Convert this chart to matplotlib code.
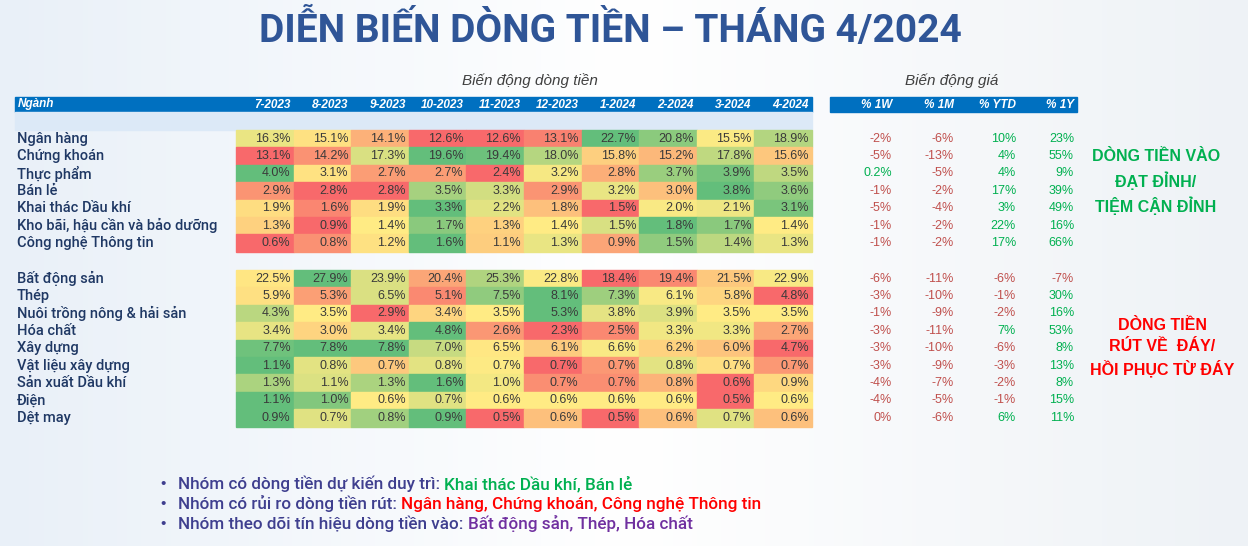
import numpy as np
import matplotlib.pyplot as plt
from matplotlib.colors import to_rgb, LinearSegmentedColormap
from matplotlib.patches import Rectangle

# Dữ liệu
months = ['7-2023', '8-2023', '9-2023', '10-2023', '11-2023', '12-2023',
          '1-2024', '2-2024', '3-2024', '4-2024']
price_cols = ['% 1W', '% 1M', '% YTD', '% 1Y']

sectors_in = ['Ngân hàng', 'Chứng khoán', 'Thực phẩm', 'Bán lẻ', 'Khai thác Dầu khí',
              'Kho bãi, hậu cần và bảo dưỡng', 'Công nghệ Thông tin']
flow_in = [
    [16.3, 15.1, 14.1, 12.6, 12.6, 13.1, 22.7, 20.8, 15.5, 18.9],
    [13.1, 14.2, 17.3, 19.6, 19.4, 18.0, 15.8, 15.2, 17.8, 15.6],
    [4.0, 3.1, 2.7, 2.7, 2.4, 3.2, 2.8, 3.7, 3.9, 3.5],
    [2.9, 2.8, 2.8, 3.5, 3.3, 2.9, 3.2, 3.0, 3.8, 3.6],
    [1.9, 1.6, 1.9, 3.3, 2.2, 1.8, 1.5, 2.0, 2.1, 3.1],
    [1.3, 0.9, 1.4, 1.7, 1.3, 1.4, 1.5, 1.8, 1.7, 1.4],
    [0.6, 0.8, 1.2, 1.6, 1.1, 1.3, 0.9, 1.5, 1.4, 1.3],
]
price_in = [
    [-2, -6, 10, 23], [-5, -13, 4, 55], [0.2, -5, 4, 9], [-1, -2, 17, 39],
    [-5, -4, 3, 49], [-1, -2, 22, 16], [-1, -2, 17, 66],
]

sectors_out = ['Bất động sản', 'Thép', 'Nuôi trồng nông & hải sản', 'Hóa chất', 'Xây dựng',
               'Vật liệu xây dựng', 'Sản xuất Dầu khí', 'Điện', 'Dệt may']
flow_out = [
    [22.5, 27.9, 23.9, 20.4, 25.3, 22.8, 18.4, 19.4, 21.5, 22.9],
    [5.9, 5.3, 6.5, 5.1, 7.5, 8.1, 7.3, 6.1, 5.8, 4.8],
    [4.3, 3.5, 2.9, 3.4, 3.5, 5.3, 3.8, 3.9, 3.5, 3.5],
    [3.4, 3.0, 3.4, 4.8, 2.6, 2.3, 2.5, 3.3, 3.3, 2.7],
    [7.7, 7.8, 7.8, 7.0, 6.5, 6.1, 6.6, 6.2, 6.0, 4.7],
    [1.1, 0.8, 0.72, 0.8, 0.74, 0.68, 0.7, 0.8, 0.73, 0.7],
    [1.3, 1.1, 1.3, 1.6, 1.0, 0.7, 0.7, 0.8, 0.6, 0.9],
    [1.1, 1.0, 0.6, 0.7, 0.6, 0.6, 0.6, 0.6, 0.5, 0.6],
    [0.9, 0.7, 0.8, 0.9, 0.5, 0.6, 0.5, 0.6, 0.7, 0.6],
]
price_out = [
    [-6, -11, -6, -7], [-3, -10, -1, 30], [-1, -9, -2, 16], [-3, -11, 7, 53],
    [-3, -10, -6, 8], [-3, -9, -3, 13], [-4, -7, -2, 8], [-4, -5, -1, 15], [0, -6, 6, 11],
]

RED, YEL, GRN = np.array(to_rgb('#F8696B')), np.array(to_rgb('#FFEB84')), np.array(to_rgb('#63BE7B'))
NAVY = '#1F3864'


def row_colors(vals):
    v = np.array(vals, float)
    lo, mid, hi = v.min(), np.percentile(v, 50), v.max()
    out = []
    for x in v:
        if x <= mid:
            t = 0 if mid == lo else (x - lo) / (mid - lo)
            out.append(RED + (YEL - RED) * t)
        else:
            t = (x - mid) / (hi - mid)
            out.append(YEL + (GRN - YEL) * t)
    return out


plt.rcParams['font.family'] = 'Liberation Sans'

fig = plt.figure(figsize=(12.48, 5.46), dpi=100)
ax = fig.add_axes([0, 0, 1, 1])
ax.set_xlim(0, 1248)
ax.set_ylim(546, 0)
ax.axis('off')

# nền gradient nhạt
grad = np.linspace(0, 1, 256).reshape(1, -1)
ax.imshow(grad, extent=[0, 1248, 546, 0],
          cmap=LinearSegmentedColormap.from_list('bg', ['#E9F0F8', '#FFFFFF', '#EEF2F6']),
          aspect='auto', zorder=0)

ax.text(610, 30, 'DIỄN BIẾN DÒNG TIỀN – THÁNG 4/2024', ha='center', va='center',
        fontsize=28, fontweight='bold', color='#2F5597', family='Roboto')
ax.text(530, 81, 'Biến động dòng tiền', ha='center', va='center', fontsize=11,
        style='italic', color='#404040')
ax.text(952, 81, 'Biến động giá', ha='center', va='center', fontsize=11,
        style='italic', color='#404040')

# header
x0, cw = 236, 57.6
ax.add_patch(Rectangle((15, 97), 797, 15, color='#0070C0', zorder=1))
ax.add_patch(Rectangle((15, 112), 797, 18, color='#DCE9F7', zorder=1))
ax.add_patch(Rectangle((830, 97), 247, 15, color='#0070C0', zorder=1))
hdr = dict(va='center', fontsize=8.5, fontweight='bold', style='italic', color='white', zorder=2)
ax.text(18, 104.5, 'Ngành', ha='left', **hdr)
for j, m in enumerate(months):
    ax.text(x0 + cw * (j + 1) - 3, 104.5, m, ha='right', **hdr)
px = [892, 954, 1016, 1074]
for j, p in enumerate(price_cols):
    ax.text(px[j], 104.5, p, ha='right', **hdr)

rh = 17.4


def draw_group(names, flows, prices, ytop):
    for i, (nm, vals, pr) in enumerate(zip(names, flows, prices)):
        y = ytop + i * rh
        yc = y + rh / 2
        ax.text(17, yc, nm, ha='left', va='center', fontsize=10.5, color=NAVY, zorder=2,
                fontweight='medium', family='Roboto')
        for j, (v, c) in enumerate(zip(vals, row_colors(vals))):
            ax.add_patch(Rectangle((x0 + cw * j, y), cw, rh, color=c, zorder=1))
            ax.text(x0 + cw * (j + 1) - 3, yc, f'{v:.1f}%', ha='right', va='center',
                    fontsize=9, color='#3A3A3A', zorder=2)
        for j, p in enumerate(pr):
            col = '#00B050' if p > 0 else '#C0504D'
            s = f'{p:.1f}%' if abs(p) < 1 and p != 0 else f'{p:.0f}%'
            ax.text(px[j], yc, s, ha='right', va='center', fontsize=9, color=col, zorder=2)


draw_group(sectors_in, flow_in, price_in, 130)
draw_group(sectors_out, flow_out, price_out, 270)

ax.text(1156, 182, 'DÒNG TIỀN VÀO\nĐẠT ĐỈNH/\nTIỆM CẬN ĐỈNH', ha='center', va='center',
        fontsize=11.5, fontweight='bold', color='#00B050', linespacing=1.45)
ax.text(1162, 348, 'DÒNG TIỀN\nRÚT VỀ  ĐÁY/\nHỒI PHỤC TỪ ĐÁY', ha='center', va='center',
        fontsize=11.5, fontweight='bold', color='#FF0000', linespacing=1.45)

# bullets nhiều màu
fig.canvas.draw()
renderer = fig.canvas.get_renderer()
bullets = [
    [('Nhóm có dòng tiền dự kiến duy trì: ', '#3F3F8F'), ('Khai thác Dầu khí, Bán lẻ', '#00B050')],
    [('Nhóm có rủi ro dòng tiền rút: ', '#3F3F8F'), ('Ngân hàng, Chứng khoán, Công nghệ Thông tin', '#FF0000')],
    [('Nhóm theo dõi tín hiệu dòng tiền vào: ', '#3F3F8F'), ('Bất động sản, Thép, Hóa chất', '#7030A0')],
]
for k, parts in enumerate(bullets):
    y = 484 + k * 20
    ax.text(160, y, '•', ha='left', va='center', fontsize=11, color='#3F3F8F')
    x = 178
    for s, c in parts:
        t = ax.text(x, y, s, ha='left', va='center', fontsize=12.3, color=c,
                    fontweight='medium', family='Roboto')
        x += t.get_window_extent(renderer).width

fig.savefig('out.png', dpi=100)
